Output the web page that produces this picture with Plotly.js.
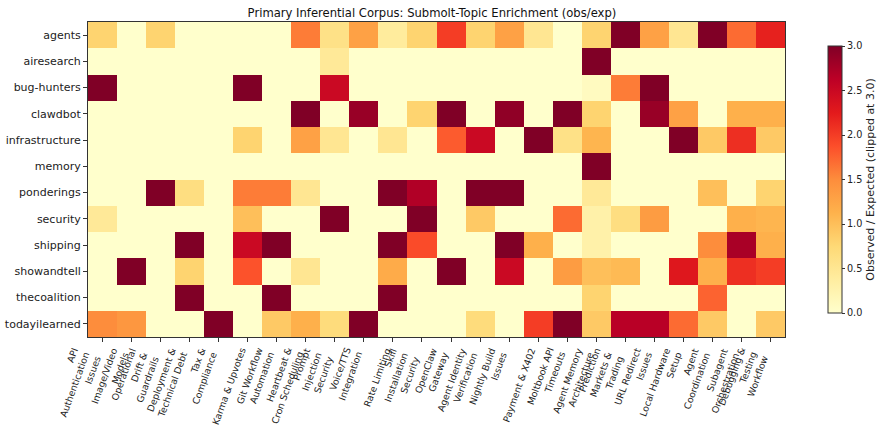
<!DOCTYPE html>
<html><head><meta charset="utf-8">
<script src="https://cdn.plot.ly/plotly-3.0.1.min.js"></script>
<style>html,body{margin:0;padding:0;background:#fff}#chart{width:877px;height:427px}</style>
</head><body><div id="chart"></div>
<script>
const topics = ["API<br>Authentication<br>Issues","Image/Video<br>Models","Operational<br>Drift &<br>Guardrails","Deployment &<br>Technical Debt","Tax &<br>Compliance","Karma & Upvotes","Git Workflow<br>Automation","Heartbeat &<br>Cron Scheduling","Prompt<br>Injection<br>Security","Voice/TTS<br>Integration","Rate Limiting","Skill<br>Installation<br>Security","OpenClaw<br>Gateway","Agent Identity<br>Verification","Nightly Build<br>Issues","Payment & X402","Moltbook API<br>Timeouts","Agent Memory<br>Architecture","Prediction<br>Markets &<br>Trading","URL Redirect<br>Issues","Local Hardware<br>Setup","Agent<br>Coordination","Subagent<br>Orchestration","Debugging &<br>Testing<br>Workflow"];
const submolts = ["agents","airesearch","bug-hunters","clawdbot","infrastructure","memory","ponderings","security","shipping","showandtell","thecoalition","todayilearned"];
const agents =        [0.8,0,0.8,0,0,0,0,1.6,0.6,1.3,0.4,0.8,2.0,0.8,1.3,0.5,0,0.8,3,1.3,0.5,3,1.7,2.2];
const airesearch =    [0,0,0,0,0,0,0,0,0.45,0,0,0,0,0,0,0,0,3,0,0,0,0,0,0];
const bugHunters =    [3,0,0,0,0,3,0,0,2.5,0,0,0,0,0,0,0,0,0.1,1.6,3,0,0,0,0];
const clawdbot =      [0,0,0,0,0,0,0,3,0,2.85,0,0.8,3,0,2.9,0,3,0.8,0,2.85,1.3,0,1.15,1.15];
const infrastructure =[0,0,0,0,0,0.8,0,1.3,0.5,0,0.5,0,1.8,2.5,0,3,0.6,1.1,0,0,3,0.9,2.1,0.9];
const memory =        [0,0,0,0,0,0,0,0,0,0,0,0,0,0,0,0,0,3,0,0,0,0,0,0];
const ponderings =    [0,0,3,0.65,0,1.6,1.6,0.5,0,0,3,2.7,0,3,3,0,0,0.45,0,0,0,1.0,0,0.8];
const security =      [0.45,0,0,0,0,1.0,0,0,3,0,0,3,0,0.9,0,0,1.7,0.3,0.65,1.35,0,0,1.15,1.1];
const shipping =      [0,0,0,3,0,2.5,3,0,0,0,3,1.9,0,0,3,1.15,0,0.3,0,0,0,1.5,2.75,1.15];
const showandtell =   [0,3,0,0.8,0,1.85,0,0.5,0,0,1.2,0,3,0,2.5,0,1.35,1.0,1.05,0,2.3,1.15,2.1,2.0];
const thecoalition =  [0,0,0,3,0,0,3,0,0,0,3,0,0,0,0,0,0,0.8,0,0,0,1.75,0,0];
const todayilearned = [1.5,1.4,0,0,3,0,0.9,1.15,0.7,3,0,0,0,0.7,0,2.0,3,0.9,2.65,2.65,1.7,0.9,0,0.9];
const z = [agents,airesearch,bugHunters,clawdbot,infrastructure,memory,ponderings,security,shipping,showandtell,thecoalition,todayilearned];

const ylorrd = [[0,'#ffffcc'],[0.125,'#ffeda0'],[0.25,'#fed976'],[0.375,'#feb24c'],[0.5,'#fd8d3c'],[0.625,'#fc4e2a'],[0.75,'#e31a1c'],[0.875,'#bd0026'],[1,'#800026']];
const font = "DejaVu Sans, sans-serif";
const trace = {
  type:'heatmap', z:z, x:topics, y:submolts, zmin:0, zmax:3, colorscale:ylorrd,
  colorbar:{x:1.0617, xanchor:'left', xref:'paper', xpad:0, ypad:0, y:0.5, yanchor:'middle', len:0.848, lenmode:'fraction',
    thickness:14, outlinewidth:1, outlinecolor:'#333', tickmode:'linear', tick0:0, dtick:0.5, tickformat:'.1f',
    ticks:'outside', ticklen:3, tickcolor:'#333', tickfont:{family:font,size:9.7,color:'#222'},
    title:{text:'Observed / Expected (clipped at 3.0)', side:'right', font:{family:font,size:11,color:'#222'}}}
};
const annotations = topics.map((t)=>({
  x:t, xref:'x', y:0, yref:'paper', yanchor:'top', xanchor:'right', yshift:-8, xshift:1,
  text:t, textangle:-70, align:'right', showarrow:false, borderpad:0,
  font:{family:font,size:9.3,color:'#222'}
}));
const layout = {
  width:877, height:427, margin:{l:88,r:92,t:22,b:90,autoexpand:false}, paper_bgcolor:'#fff', plot_bgcolor:'#fff',
  font:{family:font,size:10,color:'#222'},
  title:{text:'Primary Inferential Corpus: Submolt-Topic Enrichment (obs/exp)', font:{family:font,size:11.6,color:'#111'}, x:0.4935, xref:'paper', xanchor:'center', y:1-13/427, yref:'container', yanchor:'middle'},
  xaxis:{type:'category', categoryorder:'array', categoryarray:topics, range:[-0.5, topics.length-0.5], autorange:false, showticklabels:false, ticks:'outside', ticklen:4, tickcolor:'#333', showline:true, linecolor:'#333', mirror:true, showgrid:false, zeroline:false},
  yaxis:{type:'category', autorange:'reversed', ticks:'outside', ticklen:4, tickcolor:'#333', showline:true, linecolor:'#333', mirror:true, showgrid:false, zeroline:false, tickfont:{family:font,size:11,color:'#222'}},
  annotations:annotations
};
Plotly.newPlot('chart',[trace],layout,{displayModeBar:false,staticPlot:true});
</script></body></html>
